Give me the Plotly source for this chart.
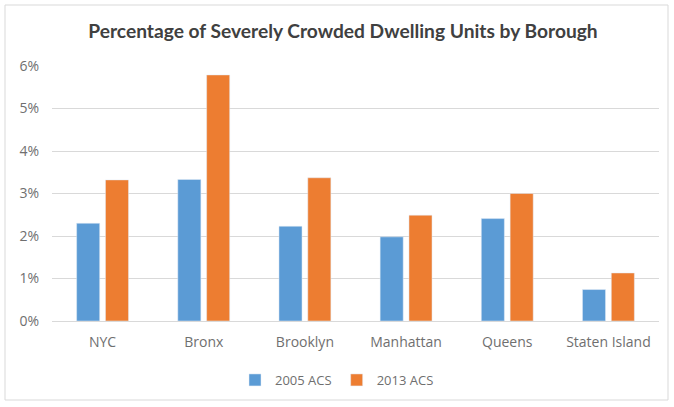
import plotly.graph_objects as go

boroughs = ["NYC", "Bronx", "Brooklyn", "Manhattan", "Queens", "Staten Island"]
acs_2005 = [2.30, 3.33, 2.23, 1.98, 2.41, 0.74]
acs_2013 = [3.32, 5.79, 3.37, 2.49, 3.00, 1.13]
y_ticks = [0, 1, 2, 3, 4, 5, 6]
y_tick_labels = [f"{v}%" for v in y_ticks]

title_font = "Lato, Open Sans, sans-serif"
label_font = "Open Sans, Lato, sans-serif"
title_color = "#404040"
text_color = "#6F6F6F"

W, H = 674, 407
L, R, T, B = 52, 15, 66, 86
plot_w, plot_h = W - L - R, H - T - B


def px_x(x):
    return (x - L) / plot_w


def px_y(y):
    return (H - B - y) / plot_h


fig = go.Figure()
fig.add_trace(go.Bar(name="2005 ACS", x=boroughs, y=acs_2005, marker_color="#5B9BD5"))
fig.add_trace(go.Bar(name="2013 ACS", x=boroughs, y=acs_2013, marker_color="#ED7D31"))

fig.update_layout(
    width=W, height=H,
    margin=dict(l=L, r=R, t=T, b=B, autoexpand=False),
    paper_bgcolor="white", plot_bgcolor="white",
    barmode="group", bargap=0.43, bargroupgap=0.2,
    font=dict(family=label_font, color=text_color, size=13),
    title=dict(
        text="<b>Percentage of Severely Crowded Dwelling Units by Borough</b>",
        x=343 / W, xanchor="center", xref="container",
        y=1 - 31 / H, yanchor="middle",
        font=dict(size=19.2, color=title_color, family=title_font),
    ),
    legend=dict(
        orientation="h", x=px_x(337), xanchor="center", xref="paper",
        y=px_y(380), yanchor="middle",
        font=dict(size=13, color=text_color, family=label_font),
        itemwidth=30,
    ),
    shapes=[dict(
        type="rect", xref="paper", yref="paper",
        x0=px_x(5), x1=px_x(668), y0=px_y(400), y1=px_y(5),
        line=dict(color="#D9D9D9", width=1),
    )],
)
fig.update_xaxes(
    showline=True, linecolor="#D9D9D9", linewidth=1,
    ticks="", ticklabelstandoff=8,
    tickfont=dict(size=14, color=text_color, family=label_font),
)
fig.update_yaxes(
    range=[0, 6], tickvals=y_ticks, ticktext=y_tick_labels,
    showgrid=True, gridcolor="#D9D9D9", gridwidth=1,
    zeroline=False, ticks="", ticklen=0, ticklabelstandoff=12,
    tickfont=dict(size=14, color=text_color, family=label_font),
)

fig.write_html("out.html")
